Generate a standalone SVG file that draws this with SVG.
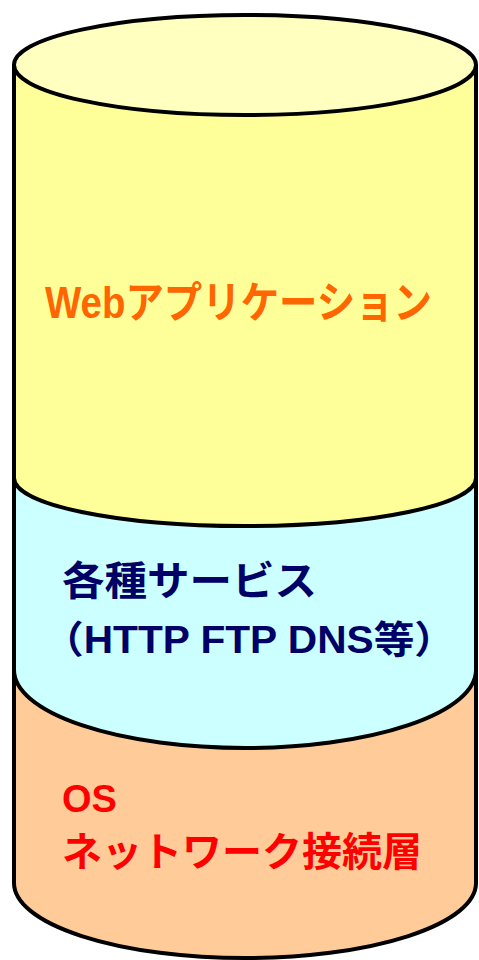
<svg xmlns="http://www.w3.org/2000/svg" width="479" height="960" viewBox="0 0 479 960">
<style>
.line{fill:none;stroke:#000;stroke-width:4;stroke-linejoin:round}
.t{font-family:"Liberation Sans","Noto Sans CJK JP",sans-serif;font-weight:bold}
</style>
<rect width="479" height="960" fill="#fff"/>
<g id="os-layer">
<path d="M14,65 V883 A231,75 0 0 0 476,883 V65 Z" fill="#FFCC99"/>
<text class="t" x="62" y="812" font-size="38" fill="#FF0000">OS</text>
<text class="t" x="62" y="866" font-size="40" fill="#FF0000" textLength="360" lengthAdjust="spacingAndGlyphs">ネットワーク接続層</text>
</g>
<g id="service-layer">
<path d="M14,65 V670 A231,78 0 0 0 476,670 V65 Z" fill="#CCFFFF"/>
<path class="line" d="M14,670 A231,78 0 0 0 476,670"/>
<text class="t" x="62" y="595" font-size="40" fill="#000066" textLength="255" lengthAdjust="spacingAndGlyphs">各種サービス</text>
<text class="t" x="43" y="653" font-size="38" fill="#000066" textLength="412" lengthAdjust="spacingAndGlyphs">（HTTP FTP DNS等）</text>
</g>
<g id="web-layer">
<path d="M14,65 V478 A231,48 0 0 0 476,478 V65 Z" fill="#FFFF99"/>
<path class="line" d="M14,478 A231,48 0 0 0 476,478"/>
<text class="t" transform="translate(45,318) scale(1,1.12)" x="0" y="0" font-size="39" fill="#FF6600" textLength="387" lengthAdjust="spacingAndGlyphs">Webアプリケーション</text>
</g>
<g id="cylinder-outline">
<ellipse cx="245" cy="65" rx="231" ry="50" fill="#FFFFC0"/>
<path class="line" d="M14,65 V883 A231,75 0 0 0 476,883 V65"/>
<ellipse class="line" cx="245" cy="65" rx="231" ry="50"/>
</g>
</svg>
